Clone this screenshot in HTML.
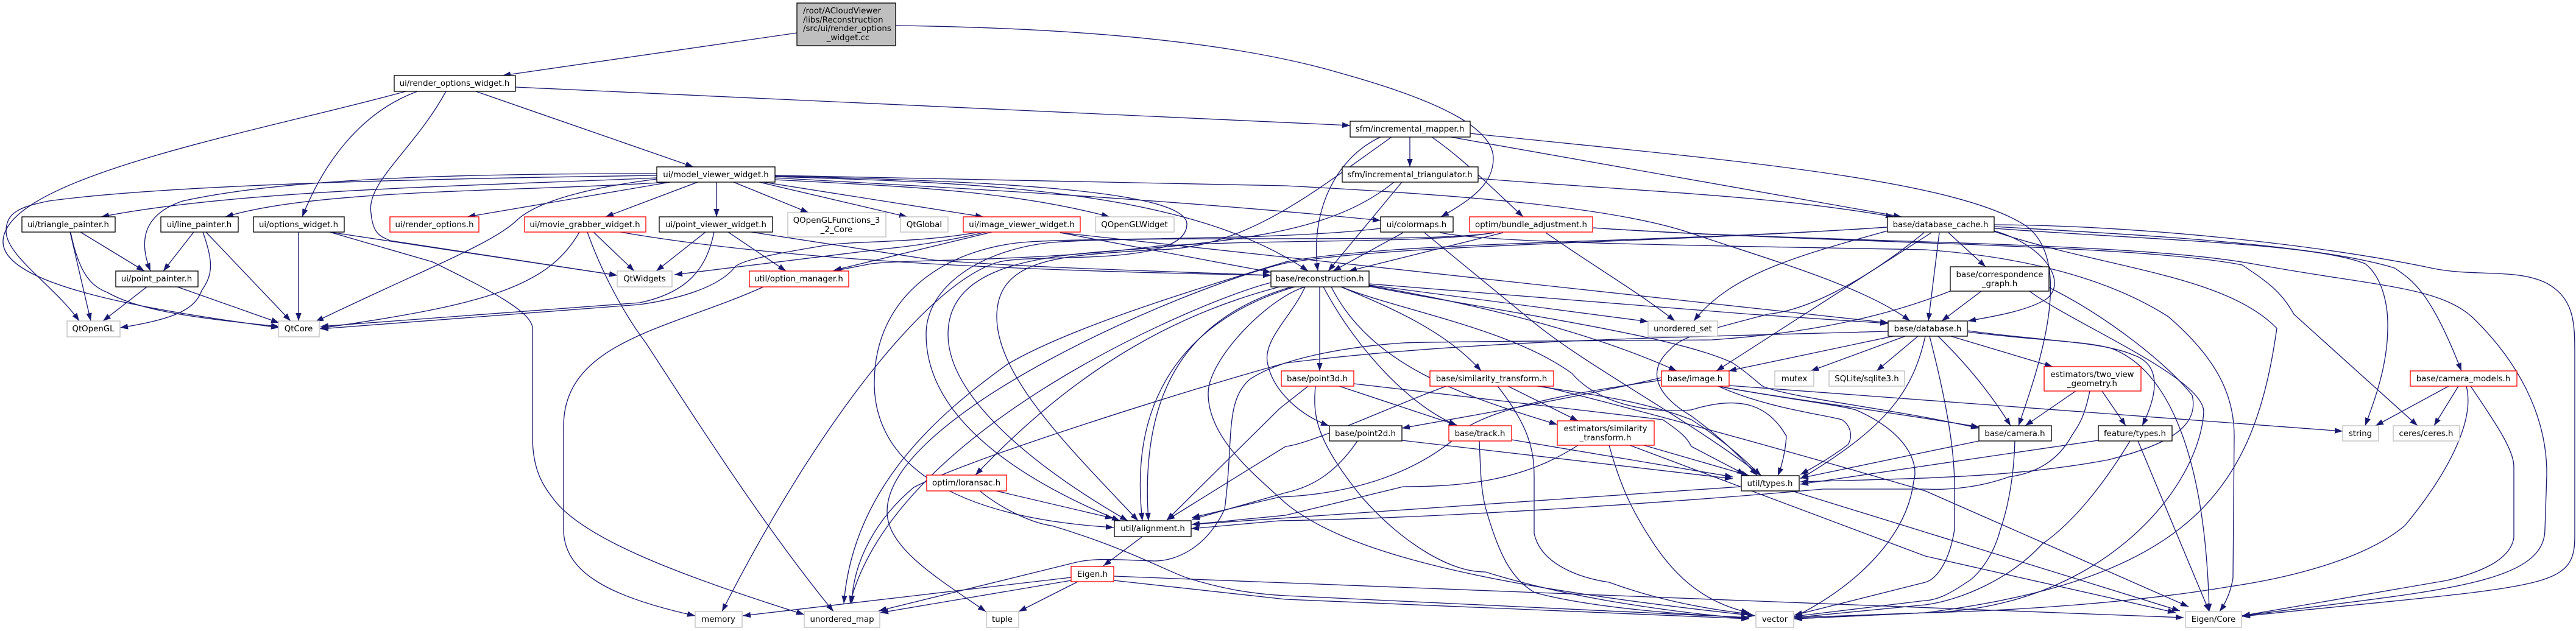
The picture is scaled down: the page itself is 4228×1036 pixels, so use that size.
<!DOCTYPE html>
<html lang="en"><head><meta charset="utf-8"><title>render_options_widget.cc include graph</title>
<style>html,body{margin:0;padding:0;background:#fff}svg{display:block}
text{font-family:"DejaVu Sans","Liberation Sans",sans-serif;font-size:13.33px;fill:#000;text-anchor:middle}
.n{fill:#fff;stroke:#000;stroke-width:1.33}.g{fill:#fff;stroke:#bfbfbf;stroke-width:1.33}.r{fill:#fff;stroke:#f00;stroke-width:1.33}</style></head><body>
<svg xmlns="http://www.w3.org/2000/svg" width="4228" height="1036" viewBox="0 0 4228 1036">
<defs><marker id="a" markerUnits="userSpaceOnUse" markerWidth="15" markerHeight="12" refX="13" refY="6" orient="auto"><path d="M0,1.3L13,6L0,10.7z" fill="#191970" stroke="none"/></marker></defs>
<rect width="4228" height="1036" fill="#fff"/>
<g fill="none" stroke="#191970" stroke-width="1.33" marker-end="url(#a)">
<path d="M1308,54L825,124"/>
<path d="M1470,42C1780,46 2030,70 2200,120C2380,170 2451,215 2451,260C2451,300 2420,325 2365,356"/>
<path d="M666,150C430,215 5,290 5,397C5,470 250,510 458,538"/>
<path d="M685,150C590,185 530,270 496,356"/>
<path d="M732,150C680,245 600,300 609,350C612,385 625,388 640,395L1013,452"/>
<path d="M781,150L1138,274"/>
<path d="M846,143L2216,206"/>
<path d="M2314,225V274"/>
<path d="M2266,225C2190,260 2150,350 2163,445"/>
<path d="M2284,225C2150,320 2040,410 1895,410C1750,420 1636,420 1636,520C1636,620 1760,740 1868,855"/>
<path d="M2381,225L3121,356"/>
<path d="M2413,219C2800,260 3200,290 3324,370C3410,430 3340,620 3313,699"/>
<path d="M2350,225C2400,260 2440,300 2500,356"/>
<path d="M2288,299C2200,370 2080,390 1895,407C1750,418 1556,420 1556,549C1556,660 1720,780 1851,855"/>
<path d="M2301,299L2180,445"/>
<path d="M2426,293C2700,315 2900,320 3108,356"/>
<path d="M1272,292C1500,305 1900,325 2266,362"/>
<path d="M1078,292C800,305 400,310 166,356"/>
<path d="M1098,299C850,315 520,310 370,356"/>
<path d="M1078,285C800,285 480,290 300,330C240,350 225,390 247,445"/>
<path d="M1078,288C800,292 300,300 80,330C30,340 10,350 10,380C10,420 90,470 130,527"/>
<path d="M1078,294C990,305 890,325 850,360C810,400 700,440 518,528"/>
<path d="M1100,299L767,356"/>
<path d="M1145,299L994,356"/>
<path d="M1176,299V356"/>
<path d="M1204,299L1327,349"/>
<path d="M1246,299L1489,356"/>
<path d="M1253,299L1614,356"/>
<path d="M1272,295C1450,305 1650,310 1821,356"/>
<path d="M1272,290C1600,300 1950,310 2147,445"/>
<path d="M1272,289C1600,297 1948,310 1948,368C1948,440 1700,415 1640,430C1530,460 1350,680 1185,1004"/>
<path d="M1272,288C1600,295 1900,300 2110,305C2400,320 2650,340 2776,383C2900,425 3060,470 3135,527"/>
<path d="M2266,375C2100,395 1800,390 1690,397C1560,405 1435,480 1435,629C1435,760 1560,850 1828,866"/>
<path d="M2452,382C2350,400 1900,385 1726,398C1610,410 1520,470 1520,549C1520,690 1680,790 1838,855"/>
<path d="M2452,382C2350,400 2100,392 1900,404C1700,430 1500,425 1430,433L1368,445"/>
<path d="M2467,382L2214,445"/>
<path d="M2537,382C2620,440 2690,480 2749,527"/>
<path d="M2614,374C3000,400 3500,400 3680,435C3725,465 3745,480 3765,516L3968,699"/>
<path d="M2614,374C3000,400 3500,395 3708,435C3900,470 4000,470 4057,520C4130,590 4181,680 4180,780L4177,869C4177,960 4000,970 3680,1011"/>
<path d="M2303,382L2188,445"/>
<path d="M2338,382L2506,520C2600,600 2760,680 2891,781"/>
<path d="M2364,382C2450,400 2800,403 3160,410C3300,420 3450,450 3559,520C3640,590 3667,650 3667,716L3665,949Q3660,980 3643,1004"/>
<path d="M3273,372C3500,385 3800,400 3930,440C3960,460 3990,480 4040,609"/>
<path d="M3273,375C3550,395 3800,400 3882,433C3910,455 3920,500 3919,540C3918,600 3900,650 3882,699"/>
<path d="M3273,369C3500,370 3800,400 3990,440C4060,455 4130,440 4180,465C4225,490 4226,530 4226,580V880C4226,970 4180,960 3680,1012"/>
<path d="M3273,380C3450,440 3650,450 3737,539C3700,800 3600,950 3160,1006L2945,1016"/>
<path d="M3273,379C3350,400 3395,460 3360,490C3330,510 3270,520 3230,527"/>
<path d="M3097,373C2700,400 2300,395 2110,430C1960,475 1750,540 1652,599C1540,680 1400,800 1385,991"/>
<path d="M3097,373C2700,400 2300,400 2110,432C1950,470 1456,680 1456,840C1456,900 1540,950 1618,1004"/>
<path d="M3098,379C2950,420 2840,450 2780,527"/>
<path d="M3158,382C3050,470 2960,510 2901,516C2830,535 2760,550 2742,573C2700,610 2720,650 2776,683Q2840,730 2884,781"/>
<path d="M3170,382L2817,609"/>
<path d="M3183,382L3165,527"/>
<path d="M3198,382L3259,438"/>
<path d="M3201,478C3120,510 3000,545 2810,558C2600,560 2400,560 2303,563C2200,570 2100,590 2051,623C2010,660 2025,720 2010,836C1980,900 1930,921 1895,921C1850,920 1800,915 1767,923L1442,1003"/>
<path d="M3252,478L3187,527"/>
<path d="M3331,478C3400,530 3617,620 3617,676C3610,800 3450,1000 3160,1006L2945,1014"/>
<path d="M3363,472C3460,520 3560,600 3598,649C3610,700 3560,730 3460,755C3300,785 3150,785 2955,791"/>
<path d="M1233,381L1533,427C1700,440 1900,445 2086,452"/>
<path d="M1018,381C1300,430 1700,445 2086,452"/>
<path d="M1740,382L2086,447"/>
<path d="M1740,382L3099,530"/>
<path d="M2166,471V609"/>
<path d="M2142,471C2120,520 2070,560 2081,599C2090,640 2130,680 2181,699"/>
<path d="M2172,471C2230,580 2320,670 2391,698"/>
<path d="M2185,471C2250,600 2400,650 2556,697"/>
<path d="M2201,471C2270,500 2370,540 2431,609"/>
<path d="M2201,471C2300,510 2480,540 2580,613C2620,660 2700,680 2776,673C2850,650 2900,660 2932,716Q2930,750 2918,781"/>
<path d="M2247,466L2874,516L3099,531"/>
<path d="M2247,468L2705,528"/>
<path d="M2247,469C2400,495 2600,540 2752,609"/>
<path d="M2247,470C2450,510 2750,550 2844,596C2880,620 2890,635 2898,636C2950,655 3100,670 3248,703"/>
<path d="M2142,471C2080,490 1983,590 1983,646C1983,720 2060,780 2110,826C2200,900 2400,960 2881,1011"/>
<path d="M2086,464C1980,490 1470,700 1395,991"/>
<path d="M2100,471C1950,510 1780,590 1601,780"/>
<path d="M2120,471C1950,520 1870,640 1885,855"/>
<path d="M2125,471C1960,520 1850,640 1875,855"/>
<path d="M3099,544C2700,555 2400,560 2110,596C1950,640 1600,750 1500,800C1440,850 1400,920 1398,991"/>
<path d="M2374,634C2300,660 2150,730 2110,733L1915,854"/>
<path d="M2458,634C2510,700 2518,740 2518,783V876C2530,930 2600,950 2641,956C2720,985 2800,1000 2871,1008"/>
<path d="M2475,634L2590,691"/>
<path d="M2523,634C2630,650 2700,660 2776,689Q2840,730 2890,781"/>
<path d="M2523,632C2800,700 3160,806 3160,806L3592,996"/>
<path d="M2222,630L2729,689C2760,710 2770,720 2776,733L2864,779"/>
<path d="M2159,634C2155,680 2157,720 2235,816C2300,890 2380,940 2438,939C2600,990 2800,1010 2871,1016"/>
<path d="M2198,634L2391,698"/>
<path d="M2147,634L2100,671L1915,854"/>
<path d="M2228,724C2190,780 2150,800 2110,809L1956,853"/>
<path d="M2301,723L2844,786"/>
<path d="M2428,724C2430,770 2430,800 2438,833C2460,910 2480,950 2519,973C2620,1000 2780,1010 2871,1014"/>
<path d="M2481,722L2844,783"/>
<path d="M2590,731C2500,790 2400,799 2303,799L2110,846L1956,861"/>
<path d="M2641,731C2660,800 2680,840 2708,883C2750,950 2800,990 2871,1006"/>
<path d="M2675,731L3160,913L3571,1006"/>
<path d="M2698,731L2871,781"/>
<path d="M1635,806L1827,851"/>
<path d="M1608,806C1650,840 1700,860 1726,863C1850,900 1920,940 1949,949C2000,965 2050,975 2110,978L2871,1014"/>
<path d="M1875,881L1811,929"/>
<path d="M1758,948L1219,1011"/>
<path d="M1758,953L1445,1006"/>
<path d="M1769,955L1672,1004"/>
<path d="M1828,946L3584,1014"/>
<path d="M1828,953L2110,984L2871,1016"/>
<path d="M2727,620C2600,650 2430,680 2301,703"/>
<path d="M2727,624C2620,640 2480,660 2410,700C2350,760 2250,810 2100,816L1956,850"/>
<path d="M2820,634C2900,650 3060,670 3248,701"/>
<path d="M2838,633L3845,708"/>
<path d="M2820,634C2900,650 3020,665 3046,673C3130,710 3150,760 3141,790C3130,880 3050,960 2945,1013"/>
<path d="M2820,634C2900,670 2990,680 3023,689C3040,700 3040,720 3033,730Q3000,755 2955,779"/>
<path d="M3107,552L2837,609"/>
<path d="M3127,552L2972,609"/>
<path d="M3148,552L3080,609"/>
<path d="M3160,552C3140,640 3100,700 2955,786"/>
<path d="M3181,552C3230,600 3270,650 3300,699"/>
<path d="M3202,552L3369,602"/>
<path d="M3167,552C3200,680 3208,750 3208,800V869C3200,920 3180,950 3160,956L2945,1010"/>
<path d="M3230,543C3350,560 3450,560 3502,583C3550,600 3540,650 3516,699"/>
<path d="M3230,545C3350,560 3430,560 3468,573C3560,610 3620,750 3626,1004"/>
<path d="M3407,642L3324,699"/>
<path d="M3430,642C3420,690 3410,700 3400,716C3370,770 3320,780 3297,783C3250,800 3200,805 3160,803H2992C2800,820 2400,850 2100,855L1955,868"/>
<path d="M3450,642L3489,699"/>
<path d="M3248,724L2955,785"/>
<path d="M3307,724C3305,800 3290,850 3283,870C3270,920 3240,950 3228,956C3200,975 3180,985 3160,986L2945,1012"/>
<path d="M3444,723L2955,795"/>
<path d="M3496,724C3450,800 3400,860 3352,893C3300,950 3220,985 3160,993L2945,1014"/>
<path d="M3509,724L3626,1004"/>
<path d="M2858,799L1956,861"/>
<path d="M2941,806L3578,1003"/>
<path d="M4019,634L3899,699"/>
<path d="M4035,634L3995,699"/>
<path d="M4048,634C4065,700 4000,800 3947,863C3880,920 3750,950 3660,963C3500,990 3300,1003 3160,1006L2945,1016"/>
<path d="M4055,634C4100,700 4126,740 4126,766V883C4120,920 4070,940 4016,953L3680,1011"/>
<path d="M951,381C900,470 800,500 525,539"/>
<path d="M964,381C985,440 1020,510 1060,563C1130,670 1250,860 1368,1004"/>
<path d="M974,381L1041,445"/>
<path d="M490,381V527"/>
<path d="M541,381L1013,452"/>
<path d="M541,381L710,430C790,470 874,510 874,539V716C874,770 890,795 906,816C950,880 1100,940 1320,1009"/>
<path d="M1253,471C1100,540 925,560 925,700V869C925,940 1000,980 1141,1011"/>
<path d="M1158,381L1077,445"/>
<path d="M1172,381C1160,440 1130,480 1050,497L526,536"/>
<path d="M1195,381L1290,445"/>
<path d="M1628,381L1368,444"/>
<path d="M1618,381C1540,400 1460,408 1456,408L1107,451"/>
<path d="M1608,381C1500,400 1400,395 1354,403C1250,420 1210,430 1205,440C1180,470 1120,490 1050,500L526,540"/>
<path d="M318,381L268,445"/>
<path d="M333,381C350,430 350,450 331,477C320,510 280,525 197,538"/>
<path d="M338,381L477,527"/>
<path d="M115,381L149,527"/>
<path d="M116,382C130,450 150,470 176,480C220,505 290,520 458,536"/>
<path d="M132,381L237,445"/>
<path d="M241,471L169,527"/>
<path d="M291,471L458,530"/>
</g>
<g>
<rect x="1308" y="5" width="162" height="70" fill="#bfbfbf" stroke="#000" stroke-width="1.33"/>
<text x="1318" y="22" style="text-anchor:start">/root/ACloudViewer</text><text x="1318" y="37" style="text-anchor:start">/libs/Reconstruction</text><text x="1318" y="51" style="text-anchor:start">/src/ui/render_options</text><text x="1392" y="66">_widget.cc</text>
<rect class="n" x="647" y="124" width="199" height="26"/><text x="746" y="141">ui/render_options_widget.h</text>
<rect class="n" x="2216" y="199" width="197" height="26"/><text x="2314" y="216">sfm/incremental_mapper.h</text>
<rect class="n" x="1078" y="274" width="194" height="25"/><text x="1175" y="291">ui/model_viewer_widget.h</text>
<rect class="n" x="2203" y="274" width="223" height="25"/><text x="2314" y="291">sfm/incremental_triangulator.h</text>
<rect class="n" x="36" y="356" width="153" height="25"/><text x="112" y="373">ui/triangle_painter.h</text>
<rect class="n" x="264" y="356" width="127" height="25"/><text x="327" y="373">ui/line_painter.h</text>
<rect class="n" x="416" y="356" width="149" height="25"/><text x="490" y="373">ui/options_widget.h</text>
<rect class="r" x="640" y="356" width="146" height="25"/><text x="713" y="373">ui/render_options.h</text>
<rect class="r" x="861" y="356" width="199" height="25"/><text x="960" y="373">ui/movie_grabber_widget.h</text>
<rect class="n" x="1082" y="356" width="186" height="25"/><text x="1175" y="373">ui/point_viewer_widget.h</text>
<rect class="g" x="1293" y="349" width="161" height="40"/><text x="1373" y="366">QOpenGLFunctions_3</text><text x="1373" y="381">_2_Core</text>
<rect class="g" x="1478" y="356" width="78" height="25"/><text x="1517" y="373">QtGlobal</text>
<rect class="r" x="1581" y="356" width="192" height="25"/><text x="1677" y="373">ui/image_viewer_widget.h</text>
<rect class="g" x="1798" y="356" width="129" height="25"/><text x="1862" y="373">QOpenGLWidget</text>
<rect class="n" x="2266" y="356" width="119" height="25"/><text x="2325" y="373">ui/colormaps.h</text>
<rect class="r" x="2412" y="356" width="202" height="25"/><text x="2513" y="373">optim/bundle_adjustment.h</text>
<rect class="n" x="3098" y="356" width="175" height="25"/><text x="3185" y="373">base/database_cache.h</text>
<rect class="n" x="190" y="445" width="135" height="26"/><text x="257" y="462">ui/point_painter.h</text>
<rect class="g" x="1013" y="445" width="90" height="26"/><text x="1058" y="462">QtWidgets</text>
<rect class="r" x="1230" y="445" width="163" height="26"/><text x="1311" y="462">util/option_manager.h</text>
<rect class="n" x="2086" y="445" width="161" height="26"/><text x="2166" y="462">base/reconstruction.h</text>
<rect class="n" x="3201" y="438" width="162" height="40"/><text x="3282" y="455">base/correspondence</text><text x="3282" y="470">_graph.h</text>
<rect class="g" x="110" y="527" width="87" height="26"/><text x="153" y="544">QtOpenGL</text>
<rect class="g" x="457" y="527" width="67" height="26"/><text x="490" y="544">QtCore</text>
<rect class="g" x="2705" y="527" width="114" height="25"/><text x="2762" y="544">unordered_set</text>
<rect class="n" x="3099" y="527" width="130" height="25"/><text x="3164" y="544">base/database.h</text>
<rect class="r" x="2103" y="609" width="119" height="25"/><text x="2162" y="626">base/point3d.h</text>
<rect class="r" x="2347" y="609" width="203" height="25"/><text x="2448" y="626">base/similarity_transform.h</text>
<rect class="r" x="2727" y="609" width="111" height="25"/><text x="2782" y="626">base/image.h</text>
<rect class="g" x="2913" y="609" width="64" height="25"/><text x="2945" y="626">mutex</text>
<rect class="g" x="3002" y="609" width="124" height="25"/><text x="3064" y="626">SQLite/sqlite3.h</text>
<rect class="r" x="3355" y="602" width="159" height="40"/><text x="3434" y="619">estimators/two_view</text><text x="3434" y="634">_geometry.h</text>
<rect class="r" x="3956" y="609" width="175" height="25"/><text x="4043" y="626">base/camera_models.h</text>
<rect class="n" x="2182" y="699" width="119" height="25"/><text x="2241" y="716">base/point2d.h</text>
<rect class="r" x="2378" y="699" width="103" height="25"/><text x="2429" y="716">base/track.h</text>
<rect class="r" x="2556" y="691" width="159" height="40"/><text x="2635" y="708">estimators/similarity</text><text x="2635" y="723">_transform.h</text>
<rect class="n" x="3248" y="699" width="119" height="25"/><text x="3307" y="716">base/camera.h</text>
<rect class="n" x="3444" y="699" width="121" height="25"/><text x="3504" y="716">feature/types.h</text>
<rect class="g" x="3845" y="699" width="59" height="25"/><text x="3874" y="716">string</text>
<rect class="g" x="3928" y="699" width="109" height="25"/><text x="3982" y="716">ceres/ceres.h</text>
<rect class="r" x="1521" y="780" width="131" height="26"/><text x="1586" y="797">optim/loransac.h</text>
<rect class="n" x="2858" y="781" width="95" height="25"/><text x="2905" y="798">util/types.h</text>
<rect class="n" x="1829" y="855" width="126" height="26"/><text x="1892" y="872">util/alignment.h</text>
<rect class="r" x="1758" y="930" width="70" height="25"/><text x="1793" y="947">Eigen.h</text>
<rect class="g" x="1141" y="1004" width="77" height="26"/><text x="1179" y="1021">memory</text>
<rect class="g" x="1320" y="1004" width="124" height="26"/><text x="1382" y="1021">unordered_map</text>
<rect class="g" x="1619" y="1004" width="53" height="26"/><text x="1645" y="1021">tuple</text>
<rect class="g" x="2882" y="1004" width="62" height="26"/><text x="2913" y="1021">vector</text>
<rect class="g" x="3587" y="1004" width="92" height="26"/><text x="3633" y="1021">Eigen/Core</text>
</g>
</svg></body></html>
